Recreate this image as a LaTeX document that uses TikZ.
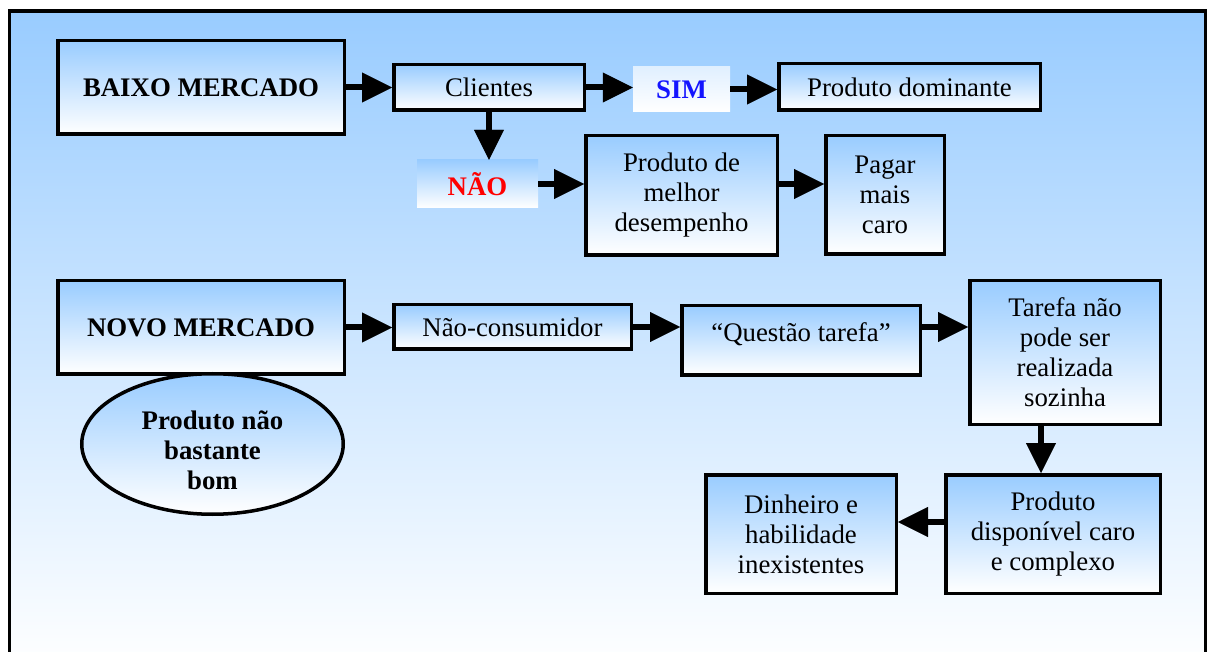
\documentclass[tikz,border=0pt]{standalone}
\usepackage{fontspec}
\setmainfont{Liberation Serif}
\usetikzlibrary{shapes.geometric,arrows.meta}
\definecolor{skyb}{RGB}{153,204,255}
\definecolor{simblue}{RGB}{20,20,255}
\definecolor{naored}{RGB}{255,0,0}
\begin{document}
\begin{tikzpicture}[x=1pt,y=-1pt,
  every node/.style={font=\fontsize{26.8}{30}\selectfont},
  boldtext/.style={font=\fontsize{26.8}{30}\selectfont\bfseries},
  box/.style={draw=black,line width=3.5pt,top color=skyb,bottom color=white,align=center,inner sep=0pt},
  lab/.style={inner sep=0pt,font=\fontsize{26.8}{30}\selectfont\bfseries},
  flow/.style={line width=6pt,-{Triangle[length=30pt,width=30pt,line width=0.4pt]}}]
\useasboundingbox (0,0) rectangle (1208,652);
\fill[white] (0,0) rectangle (1208,652);
\path[top color=skyb,bottom color=white] (9.5,11) rectangle (1205.5,670);
\draw[line width=3.5pt] (9.5,670) -- (9.5,11) -- (1205.5,11) -- (1205.5,670);

\node[box,boldtext,minimum width=286.5pt,minimum height=93.5pt] (baixo) at (201,87.5) {BAIXO MERCADO};
\node[box,minimum width=190.5pt,minimum height=45.5pt] (clientes) at (489,87.5) {Clientes};
\node[lab,text=simblue,top color=skyb!30,bottom color=white,minimum width=97pt,minimum height=45pt] (sim) at (681.5,89.5) {SIM};
\node[box,minimum width=261.5pt,minimum height=46.5pt] (dominante) at (909.5,87) {Produto dominante};
\node[lab,text=naored,top color=skyb,bottom color=white,minimum width=121pt,minimum height=48pt] (nao) at (477.5,184) {NÃO};
\node[box,minimum width=191.5pt,minimum height=119.5pt] (melhor) at (681.5,195.5) {Produto de\\melhor\\desempenho};
\node[box,minimum width=118.5pt,minimum height=118.5pt] (pagar) at (885,195) {Pagar\\mais\\caro};

\node[box,boldtext,minimum width=286.5pt,minimum height=93.5pt] (novo) at (201,327.5) {NOVO MERCADO};
\node[ellipse,draw=black,line width=3.5pt,top color=skyb,bottom color=white,align=center,inner sep=0pt,minimum width=261.5pt,minimum height=140.5pt,boldtext] (bom) at (212.5,444) {\rule{0pt}{32pt}Produto não\\bastante\\bom};
\node[box,minimum width=237.5pt,minimum height=44.5pt] (naocons) at (512.5,327) {Não-consumidor};
\node[box,minimum width=238.5pt,minimum height=69.5pt,text depth=16pt] (questao) at (801,340.5) {“Questão tarefa”};
\node[box,minimum width=190.5pt,minimum height=143.5pt] (tarefa) at (1065,352.5) {Tarefa não\\pode ser\\realizada\\sozinha};
\node[box,minimum width=214.5pt,minimum height=118.5pt] (disp) at (1053,534) {Produto\\disponível caro\\e complexo};
\node[box,minimum width=190.5pt,minimum height=118.5pt] (dinheiro) at (801,534) {Dinheiro e\\habilidade\\inexistentes};

\draw[flow] (baixo.east) -- (clientes.west);
\draw[flow] (clientes.east) -- (clientes.east -| sim.west);
\draw[flow] (sim.east) -- (sim.east -| dominante.west);
\draw[flow] (clientes.south) -- (clientes.south |- nao.north);
\draw[flow] (nao.east) -- (nao.east -| melhor.west);
\draw[flow] (nao.east -| melhor.east) -- (nao.east -| pagar.west);
\draw[flow] (novo.east) -- (novo.east -| naocons.west);
\draw[flow] (naocons.east) -- (naocons.east -| questao.west);
\draw[flow] (naocons.east -| questao.east) -- (naocons.east -| tarefa.west);
\draw[flow] ([xshift=-24pt]tarefa.south) -- ([xshift=-24pt]tarefa.south |- disp.north);
\draw[flow] ([yshift=12pt]disp.west) -- ([yshift=12pt]disp.west -| dinheiro.east);
\end{tikzpicture}
\end{document}
